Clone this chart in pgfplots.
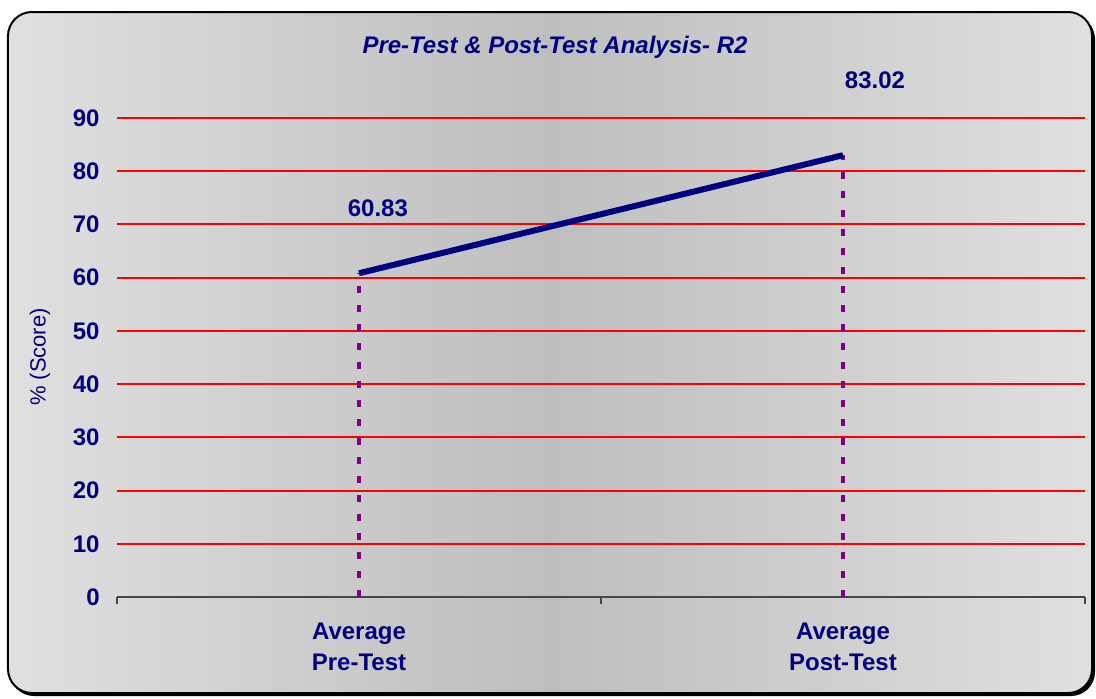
\documentclass[border=0pt]{standalone}
\usepackage{fontspec}
\setmainfont{Liberation Sans}
\usepackage{pgfplots}
\pgfplotsset{compat=1.18}
\definecolor{navy}{RGB}{0,0,128}
\definecolor{purp}{RGB}{128,0,128}
\definecolor{bgedge}{RGB}{224,224,224}
\definecolor{bgmid}{RGB}{190,190,190}
\definecolor{axgray}{RGB}{70,70,70}
\begin{document}
\begin{tikzpicture}
\useasboundingbox (-58.5pt,-50.5pt) rectangle (489.5pt,298.5pt);
\fill[black, rounded corners=12pt] (-53.5pt,-49.5pt) rectangle (489pt,291pt);
\shadedraw[rounded corners=12pt, left color=bgedge, right color=bgedge, middle color=bgmid, draw=black, line width=1pt] (-54.5pt,-48pt) rectangle (487.5pt,292.5pt);
\begin{axis}[
  at={(0pt,0pt)}, anchor=south west,
  scale only axis, width=484pt, height=239.5pt,
  xmin=0, xmax=2, ymin=0, ymax=90,
  axis x line*=bottom, axis y line*=left,
  y axis line style={draw=none},
  x axis line style={draw=axgray, line width=0.6pt, -},
  ytick={10,20,...,90},
  extra y ticks={0},
  extra y tick style={grid=none},
  ymajorgrids, grid style={red, line width=1pt},
  major tick length=0pt,
  /pgf/number format/assume math mode=true,
  yticklabel style={font=\fontsize{12}{14}\selectfont\bfseries, text=navy, inner sep=0pt, anchor=east, xshift=-8.5pt},
  xtick={0.5,1.5},
  xticklabels={Average\\Pre-Test, Average\\Post-Test},
  xticklabel style={font=\fontsize{12}{15.5}\selectfont\bfseries, text=navy, align=center, inner sep=0pt, anchor=north, yshift=-13pt},
  extra x ticks={0,1,2},
  extra x tick labels={},
  extra x tick style={major tick length=3.5pt, tick align=outside, tick style={draw=axgray, line width=0.6pt}, grid=none},
  ylabel={\% (Score)},
  ylabel style={at={(axis description cs:-0.0795,0.501)}, anchor=center, font=\fontsize{11}{13}\selectfont, text=navy},
  clip=false,
]
\addplot[ycomb, draw=purp, line width=1.8pt, dash pattern=on 3.3pt off 6.2pt, no markers] coordinates {(0.5,60.83) (1.5,83.02)};
\addplot[draw=navy, line width=3pt, no markers] coordinates {(0.5,60.83) (1.5,83.02)};
\node[font=\fontsize{12}{14}\selectfont\bfseries, text=navy] at (axis cs:0.539,73.1) {60.83};
\node[font=\fontsize{12}{14}\selectfont\bfseries, text=navy] at (axis cs:1.566,97.1) {83.02};
\node[font=\fontsize{12}{14}\selectfont\bfseries\itshape, text=navy] at (axis description cs:0.4525,1.148) {Pre-Test \& Post-Test Analysis- R2};
\end{axis}
\end{tikzpicture}
\end{document}
